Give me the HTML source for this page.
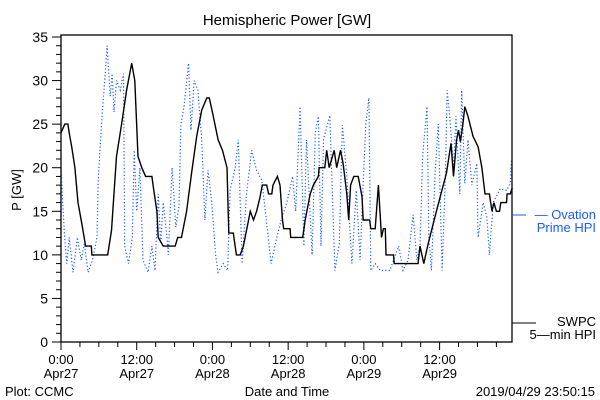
<!DOCTYPE html>
<html><head><meta charset="utf-8"><style>
html,body{margin:0;padding:0;background:#fff;}
svg{display:block;font-family:"Liberation Sans",sans-serif;}
</style></head><body>
<svg id="chart" width="600" height="400" viewBox="0 0 600 400">
<rect width="600" height="400" fill="#fff"/>
<text x="287" y="25" font-size="15" text-anchor="middle">Hemispheric Power [GW]</text>
<text x="21" y="190" font-size="13" text-anchor="middle" transform="rotate(-90 21 190)">P [GW]</text>
<g id="yaxis"></g>
<g id="xaxis"></g>
<g id="series"></g>
<rect x="61" y="35" width="451" height="307" fill="none" stroke="#000" stroke-width="1.3"/>
<text x="287" y="396" font-size="13" text-anchor="middle">Date and Time</text>
<text x="5" y="396" font-size="13">Plot: CCMC</text>
<text x="595" y="396" font-size="13" text-anchor="end">2019/04/29 23:50:15</text>
<g>
<line x1="512" y1="215" x2="526" y2="215" stroke="#1a5cff" stroke-width="1"/>
<text x="596" y="219" font-size="13" fill="#1a5cff" text-anchor="end">— Ovation</text>
<text x="596" y="232" font-size="13" fill="#1a5cff" text-anchor="end">Prime HPI</text>
</g>
<g>
<line x1="512" y1="323" x2="536" y2="323" stroke="#000" stroke-width="1"/>
<text x="596" y="326" font-size="13" text-anchor="end">SWPC</text>
<text x="596" y="339" font-size="13" text-anchor="end">5—min HPI</text>
</g>
</svg>
<script>
const yTicks=[0,5,10,15,20,25,30,35];
const xTickHours=[0,12,24,36,48,60];
const xTickTimes=["0:00","12:00","0:00","12:00","0:00","12:00"];
const xTickDates=["Apr27","Apr27","Apr28","Apr28","Apr29","Apr29"];
const swpcHours=[0,0.6,1.1,1.3,1.7,2.2,2.7,3.3,3.9,4.8,4.9,7.4,8.0,8.8,9.6,10.4,11.2,11.7,12.2,12.8,13.4,14.4,14.7,15.2,15.4,16.2,18.1,18.5,19.1,19.9,20.7,21.5,22.3,23.1,23.5,24.1,24.9,25.6,26.3,26.6,27.3,27.8,28.4,28.9,29.4,30.0,30.5,31.0,31.5,31.9,32.6,32.9,33.4,33.6,34.3,34.7,35.1,35.3,36.3,36.4,38.3,38.7,39.5,40.0,40.8,40.9,41.8,42.1,42.5,42.9,43.3,43.7,44.3,44.7,45.3,45.6,45.9,46.4,47.1,47.7,47.9,48.9,49.1,49.8,50.3,50.8,51.1,51.4,51.5,52.7,52.8,56.6,56.9,57.2,57.5,58.2,59.5,61.1,61.8,62.2,62.7,63.0,63.3,63.7,64.0,64.5,65.3,66.1,66.7,67.2,67.9,68.3,68.6,69.0,69.5,69.7,70.6,70.7,71.2,71.5];
const swpcValues=[24,25,25,24,22.4,20,16,13.6,11,11,10,10,12.8,21.3,25,28.9,32,30,21.3,20,19,19,17.4,15,12,11,11,12,12,15,19.4,23.6,26.6,28,28,26,23.2,22,20,12.5,12.5,10,10,11,12.8,15,14,15,16.5,18,18,17,17,18,19,18,14,13,13,12,12,14,17,18,19,20,20,22,20,21,22,20,22,20.5,17,14,18,19,19,16.7,14,14,13,13,18,12,13,13,10,10,9,9,11,10,9,11.3,15,19.4,22.8,19,23.2,24.3,23,25,27,25.9,23.6,22.4,20,17,17,15,16,15,15,16,16,17,17,17.7];
const ovationHours=[0,0.5,0.9,1.3,1.9,2.6,3.2,3.7,4.3,5.0,5.7,5.9,6.5,7.0,7.3,7.8,8.1,8.4,8.8,9.4,9.9,10.1,10.7,11.3,11.6,12.0,12.5,13.0,13.8,14.4,14.9,15.4,15.8,16.2,16.8,17.0,17.6,18.2,18.7,19.0,19.5,20.2,20.6,21.1,21.7,22.3,22.8,23.3,23.9,24.5,24.9,25.7,26.4,26.8,27.6,28.1,28.7,29.4,30.2,31.0,31.8,32.4,33.3,34.2,35.0,35.8,36.7,37.2,37.9,38.5,38.9,39.8,40.3,40.8,41.2,41.6,42.6,43.4,44.1,44.6,45.3,46.1,46.8,47.4,47.9,48.3,48.8,49.1,49.8,50.6,52.1,53.5,54.2,55.0,55.8,56.4,56.9,57.3,58.0,58.3,58.7,59.3,59.8,60.4,60.9,61.2,61.6,62.2,62.6,63.2,63.5,64.0,64.5,65.1,65.9,66.1,66.9,67.5,67.9,68.5,69.6,70.6,71.2,71.4];
const ovationValues=[20,12.8,9,12,8,12,9.4,11.3,8,9.4,12,18.6,25.9,30.8,34,28.2,30.8,26.4,30,28.9,30.8,11,9,12,22,15,20,9.4,8,11,8.2,17,11.3,16,12,10,20,13.2,15.6,25,27,32,24.3,30,28.9,23.2,14,19.7,16,10,8,9,8.2,17.4,20,23.2,9,17,22,19.7,18.6,15,9,12,14.3,16,19,15,27,11,23.2,10,24,25.9,11,23.2,26,8.2,11.3,24.9,19,9,17.4,9.4,18.2,25,28,8.2,9,8.2,8.2,11,8.2,9.4,14.6,9.4,11,21.3,27,12,8.2,19.7,25,8.2,18.6,28.9,25.9,20,25.9,17,28.9,18.2,23.2,18,20.5,12,16,14.3,10,16,17.6,17.4,18.2,21];
const NS="http://www.w3.org/2000/svg";
const X0=61,PXH=6.31,Y0=342,PXV=8.714;
function xScale(h){return X0+h*PXH;}
function yScale(v){return Y0-v*PXV;}
function mk(tag,attrs,parent){const e=document.createElementNS(NS,tag);for(const k in attrs)e.setAttribute(k,attrs[k]);parent.appendChild(e);return e;}
const yax=document.getElementById('yaxis');
for(let v=0;v<=35;v++){
  const major=v%5===0;
  const t=mk('line',{x1:X0-(major?9:5),x2:X0,y1:yScale(v),y2:yScale(v),stroke:'#000','stroke-width':1},yax);
  
  
}
yTicks.forEach(v=>{
  const t=mk('text',{x:X0-13,y:yScale(v)+5,'font-size':14,'text-anchor':'end'},yax);
  t.textContent=v;
  
  
});
const xax=document.getElementById('xaxis');
for(let h=0;h<=71;h+=3){
  const major=h%12===0;
  const t=mk('line',{x1:xScale(h),x2:xScale(h),y1:Y0,y2:Y0+(major?8:5),stroke:'#000','stroke-width':1},xax);
  
  
}
xTickHours.forEach((h,i)=>{
  const a=mk('text',{x:xScale(h),y:364,'font-size':13,'text-anchor':'middle'},xax);
  a.textContent=xTickTimes[i];
  
  
  const b=mk('text',{x:xScale(h),y:378,'font-size':13,'text-anchor':'middle'},xax);
  b.textContent=xTickDates[i];
  
  
});
const ser=document.getElementById('series');
const op=ovationHours.map((h,i)=>xScale(h).toFixed(1)+','+yScale(ovationValues[i]).toFixed(1)).join(' ');
const ol=mk('polyline',{points:op,fill:'none',stroke:'#1a5cff','stroke-width':1.2,'stroke-dasharray':'1.2 2.2'},ser);


const sp=swpcHours.map((h,i)=>xScale(h).toFixed(1)+','+yScale(swpcValues[i]).toFixed(1)).join(' ');
const sl=mk('polyline',{points:sp,fill:'none',stroke:'#000','stroke-width':1.4},ser);


</script>
</body></html>
